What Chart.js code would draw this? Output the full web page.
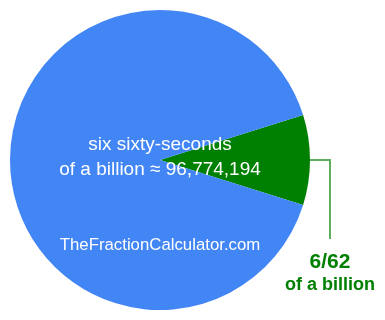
<!DOCTYPE html>
<html>
<head>
<meta charset="utf-8">
<script src="https://cdn.jsdelivr.net/npm/chart.js@4"></script>
<style>
  html, body { margin: 0; padding: 0; background: #ffffff; }
  #wrap { width: 385px; height: 320px; position: relative; }
</style>
</head>
<body>
<div id="wrap"><canvas id="c" width="385" height="320"></canvas></div>
<script>
const categories = ["6/62 of a billion", "remainder"];
const values = [6, 56];
const colors = ["#008000", "#4285F4"];
const centerLines = ["six sixty-seconds", "of a billion \u2248 96,774,194"];
const watermark = "TheFractionCalculator.com";
const sliceLabelLines = ["6/62", "of a billion"];

const total = values.reduce((a, b) => a + b, 0);
const greenSweep = values[0] / total * 360;

const textPlugin = {
  id: 'pieText',
  afterDatasetsDraw(chart) {
    const ctx = chart.ctx;
    const meta = chart.getDatasetMeta(0);
    const big = meta.data[1];
    const small = meta.data[0];
    const cx = big.x, cy = big.y;
    ctx.save();
    ctx.fillStyle = '#ffffff';
    ctx.textAlign = 'center';
    ctx.textBaseline = 'alphabetic';
    ctx.font = '19px "Liberation Sans", Arial, sans-serif';
    ctx.fillText(centerLines[0], cx, cy - 10);
    ctx.fillText(centerLines[1], cx, cy + 15);
    ctx.font = '16.8px "Liberation Sans", Arial, sans-serif';
    ctx.fillText(watermark, cx, cy + 90);

    // leader line for small slice
    const mid = (small.startAngle + small.endAngle) / 2;
    const r = small.outerRadius;
    const sx = small.x + Math.cos(mid) * r;
    const sy = small.y + Math.sin(mid) * r;
    const lx = sx + 20;
    ctx.strokeStyle = '#5fae5f';
    ctx.lineWidth = 2;
    ctx.beginPath();
    ctx.moveTo(sx, sy);
    ctx.lineTo(lx, sy);
    ctx.lineTo(lx, sy + 79);
    ctx.stroke();

    ctx.fillStyle = '#008000';
    ctx.font = 'bold 21px "Liberation Sans", Arial, sans-serif';
    ctx.fillText(sliceLabelLines[0], lx, sy + 108);
    ctx.font = 'bold 18px "Liberation Sans", Arial, sans-serif';
    ctx.fillText(sliceLabelLines[1], lx, sy + 130);
    ctx.restore();
  }
};

new Chart(document.getElementById('c'), {
  type: 'pie',
  data: {
    labels: categories,
    datasets: [{
      data: values,
      backgroundColor: colors,
      borderWidth: 0,
      hoverOffset: 0
    }]
  },
  options: {
    responsive: false,
    animation: false,
    rotation: 90 - greenSweep / 2,
    layout: { padding: { left: 10, top: 10, right: 75, bottom: 10 } },
    plugins: {
      legend: { display: false },
      tooltip: { enabled: false }
    },
    events: []
  },
  plugins: [textPlugin]
});
</script>
</body>
</html>
